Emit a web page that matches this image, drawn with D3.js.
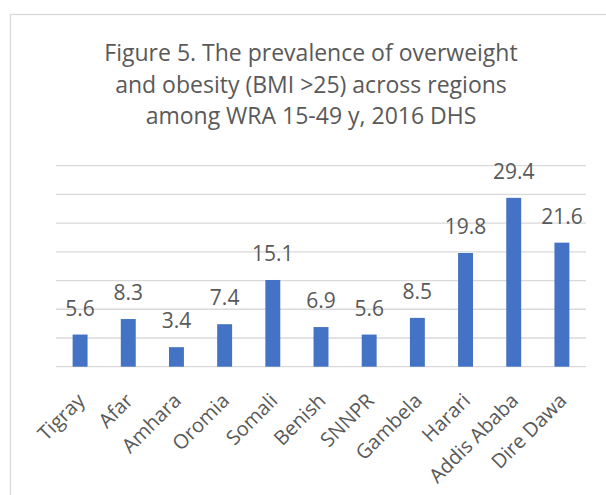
<!DOCTYPE html>
<html>
<head>
<meta charset="utf-8">
<script src="https://cdn.jsdelivr.net/npm/d3@7"></script>
<style>
  body { margin: 0; background: #fff; }
  svg text { font-family: "Open Sans", sans-serif; fill: #595959; }
</style>
</head>
<body>
<svg id="chart" width="606" height="495"></svg>
<script>
// data
var regions = ["Tigray", "Afar", "Amhara", "Oromia", "Somali", "Benish", "SNNPR",
               "Gambela", "Harari", "Addis Ababa", "Dire Dawa"];
var prevalence = [5.6, 8.3, 3.4, 7.4, 15.1, 6.9, 5.6, 8.5, 19.8, 29.4, 21.6];
var yTicks = [0, 5, 10, 15, 20, 25, 30, 35];
var titleLines = ["Figure 5. The prevalence of overweight",
                  "and obesity (BMI >25) across regions",
                  "among WRA 15-49 y, 2016 DHS"];

var svg = d3.select("#chart");

// chart area frame (runs off the right / bottom edge)
svg.append("rect")
    .attr("x", 10.5).attr("y", 14.5)
    .attr("width", 700).attr("height", 600)
    .attr("fill", "none")
    .attr("stroke", "#d9d9d9")
    .attr("stroke-width", 1.3);

var x = d3.scaleBand().domain(regions).range([56, 586]).paddingInner(0.69).paddingOuter(0.345);
var y = d3.scaleLinear().domain([0, 35]).range([366.7, 165.7]);

// gridlines
svg.append("g").selectAll("line")
    .data(yTicks)
    .enter().append("line")
        .attr("x1", 56).attr("x2", 586)
        .attr("y1", function(d) { return y(d); })
        .attr("y2", function(d) { return y(d); })
        .attr("stroke", "#d9d9d9")
        .attr("stroke-width", 1.3);

// title
svg.append("text")
    .attr("y", 61)
    .attr("text-anchor", "middle")
    .style("font-size", "23px")
    .selectAll("tspan")
    .data(titleLines)
    .enter().append("tspan")
        .attr("x", 311)
        .attr("dy", function(d, i) { return i == 0 ? 0 : 31.5; })
        .text(function(d) { return d; });

var data = regions.map(function(r, i) { return {name: r, value: prevalence[i]}; });

// bars
svg.append("g").selectAll("rect")
    .data(data)
    .enter().append("rect")
        .attr("x", function(d) { return x(d.name); })
        .attr("width", x.bandwidth())
        .attr("y", function(d) { return y(d.value); })
        .attr("height", function(d) { return y(0) - y(d.value); })
        .attr("fill", "#4472c4");

// value labels
svg.append("g").selectAll("text")
    .data(data)
    .enter().append("text")
        .attr("x", function(d) { return x(d.name) + x.bandwidth() / 2; })
        .attr("y", function(d) { return y(d.value) - 19; })
        .attr("text-anchor", "middle")
        .style("font-size", "21px")
        .text(function(d) { return d.value.toFixed(1); });

// category labels, rotated
svg.append("g").selectAll("text")
    .data(regions)
    .enter().append("text")
        .attr("transform", function(d) {
            return "translate(" + (x(d) + x.bandwidth() / 2 + 1) + ",397) rotate(-45)";
        })
        .attr("text-anchor", "end")
        .attr("dy", "0.35em")
        .style("font-size", "20px")
        .text(function(d) { return d; });
</script>
</body>
</html>
